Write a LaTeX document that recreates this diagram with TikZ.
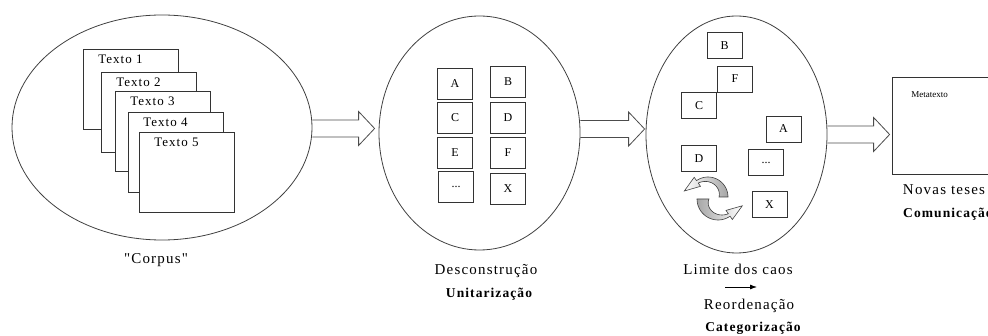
\documentclass[tikz,border=0pt]{standalone}
\usepackage{fontspec}
\setmainfont{Liberation Serif}
\newfontfamily\lblfont{Liberation Serif}[LetterSpace=8]
\usetikzlibrary{calc,shapes.geometric,arrows.meta}

% hollow block arrow, #1 start of the shaft, #2 tip
\newcommand\hollowarrow[2]{%
  \draw[hollow] ($(#1)+(0,-8.5)$) -- ($(#2)+(-16,-8.5)$) -- ($(#2)+(-16,-17)$) -- (#2)
    -- ($(#2)+(-16,17)$) -- ($(#2)+(-16,8.5)$) -- ($(#1)+(0,8.5)$);}

\begin{document}
\begin{tikzpicture}[x=1pt,y=-1pt,
            oval/.style={ellipse,draw=black!75,line width=.8pt,inner sep=0pt},
            page/.style={draw=black!80,fill=white,line width=.8pt,minimum width=95pt,minimum height=80pt,inner sep=0pt},
            tlab/.style={anchor=north,xshift=-10pt,yshift=-5pt,inner sep=1pt,font=\lblfont\fontsize{13}{13}\selectfont},
            card/.style={draw=black!80,line width=.8pt,minimum width=35pt,minimum height=31pt,inner sep=0pt,font=\fontsize{12}{12}\selectfont},
            cardc/.style={card,minimum height=26pt},
            hollow/.style={draw=black!70,line width=.8pt,line join=miter},
            twist/.style={draw=black!75,line width=.6pt},
            lab/.style={anchor=base,inner sep=0pt,font=\lblfont\fontsize{15}{15}\selectfont},
            blab/.style={anchor=base,inner sep=0pt,font=\lblfont\bfseries\fontsize{13.5}{13.5}\selectfont}
        ]
            \useasboundingbox (0,0) rectangle (988,336);
            \clip (0,0) rectangle (988,336);

            % the three ovals
            \node[oval,minimum width=300pt,minimum height=225pt] (e1) at (162,127.5) {};
            \node[oval,minimum width=201pt,minimum height=234pt] (e2) at (479.5,133) {};
            \node[oval,minimum width=181pt,minimum height=237pt] (e3) at (736.5,134.5) {};

            % corpus
            \node[page,label={[tlab]north:Texto 1}] (t1) at (130.5,89) {};
            \node[page,label={[tlab]north:Texto 2}] (t2) at (148.5,112) {};
            \node[page,label={[tlab]north:Texto 3}] (t3) at (162.5,131) {};
            \node[page,label={[tlab]north:Texto 4}] (t4) at (175.5,152) {};
            \node[page,label={[tlab]north:Texto 5}] (t5) at (186.5,172) {};

            % units
            \node[card] (uA) at (455,83.5) {A};
            \node[card] (uB) at (508,82)   {B};
            \node[card] (uC) at (455,118)  {C};
            \node[card] (uD) at (508,117.5) {D};
            \node[card] (uE) at (455,153)  {E};
            \node[card] (uF) at (508,153)  {F};
            \node[card] (uDots) at (456,187) {...};
            \node[card] (uX) at (508,188.5) {X};

            % categories
            \node[cardc] (cB) at (724.5,45.5) {B};
            \node[cardc] (cF) at (735,79)     {F};
            \node[cardc] (cC) at (699,105.5)  {C};
            \node[cardc] (cA) at (783.5,129)  {A};
            \node[cardc] (cD) at (699,158.5)  {D};
            \node[cardc] (cDots) at (766,162.5) {...};
            \node[cardc] (cX) at (769.5,204.5) {X};

            \draw[twist,left color=white,right color=black!35]
                plot[domain=0:-125,samples=25] ({708+20*cos(\x)},{197+20*sin(\x)})
                -- (694.2,177.3) -- (684.3,191.0) -- (700.5,186.35)
                -- plot[domain=-125:0,samples=25] ({708+(17-6*(\x+125)/125)*cos(\x)},{197+(17-6*(\x+125)/125)*sin(\x)})
                -- cycle;
            \draw[twist,left color=black!35,right color=white]
                plot[domain=180:55,samples=25] ({718+21*cos(\x)},{199+21*sin(\x)})
                -- (732.35,219.5) -- (742.3,205.8) -- (726.0,210.4)
                -- plot[domain=55:180,samples=25] ({718+(18-9*(\x-55)/125)*cos(\x)},{199+(18-9*(\x-55)/125)*sin(\x)})
                -- cycle;

            % metatext
            \node[draw=black!80,line width=.8pt,minimum width=110pt,minimum height=97pt,inner sep=0pt] (meta) at (947,125.5) {};
            \node[font=\fontsize{9}{9}\selectfont,inner sep=0pt] (metalab) at ($(meta.north west)+(38,18)$) {Metatexto};

            % big arrows
            \coordinate (a1s) at ($(e1.east)+(0,1)$);
            \coordinate (a1t) at ($(a1s -| e2.west)+(-4,0)$);
            \coordinate (a2s) at ($(e2.east)+(0,-4)$);
            \coordinate (a2t) at ($(a2s -| e3.west)+(-1,0)$);
            \coordinate (a3s) at (e3.east);
            \coordinate (a3t) at ($(a3s -| meta.west)+(-2,0)$);
            \hollowarrow{a1s}{a1t}
            \hollowarrow{a2s}{a2t}
            \hollowarrow{a3s}{a3t}

            % captions
            \node[lab]  (corpus) at (156,264)   {"Corpus"};
            \node[lab]  (desc)   at (486,275)   {Desconstrução};
            \node[blab] (unit)   at (489,297.5) {Unitarização};
            \node[lab]  (lim)    at (738,275)   {Limite dos caos};
            \node[lab]  (reo)    at (749,310)   {Reordenação};
            \node[blab] (cat)    at (753,331.5) {Categorização};
            \node[lab]  (novas)  at (944,195)   {Novas teses};
            \node[blab,anchor=base west] (comun) at (903,217.5) {Comunicação};

            \coordinate (sa) at (725,287);
            \coordinate (sb) at (757,287);
            \draw[-{Latex[length=7pt,width=5pt]},line width=.8pt] (sa) -- (sb);
        \end{tikzpicture}
\end{document}
